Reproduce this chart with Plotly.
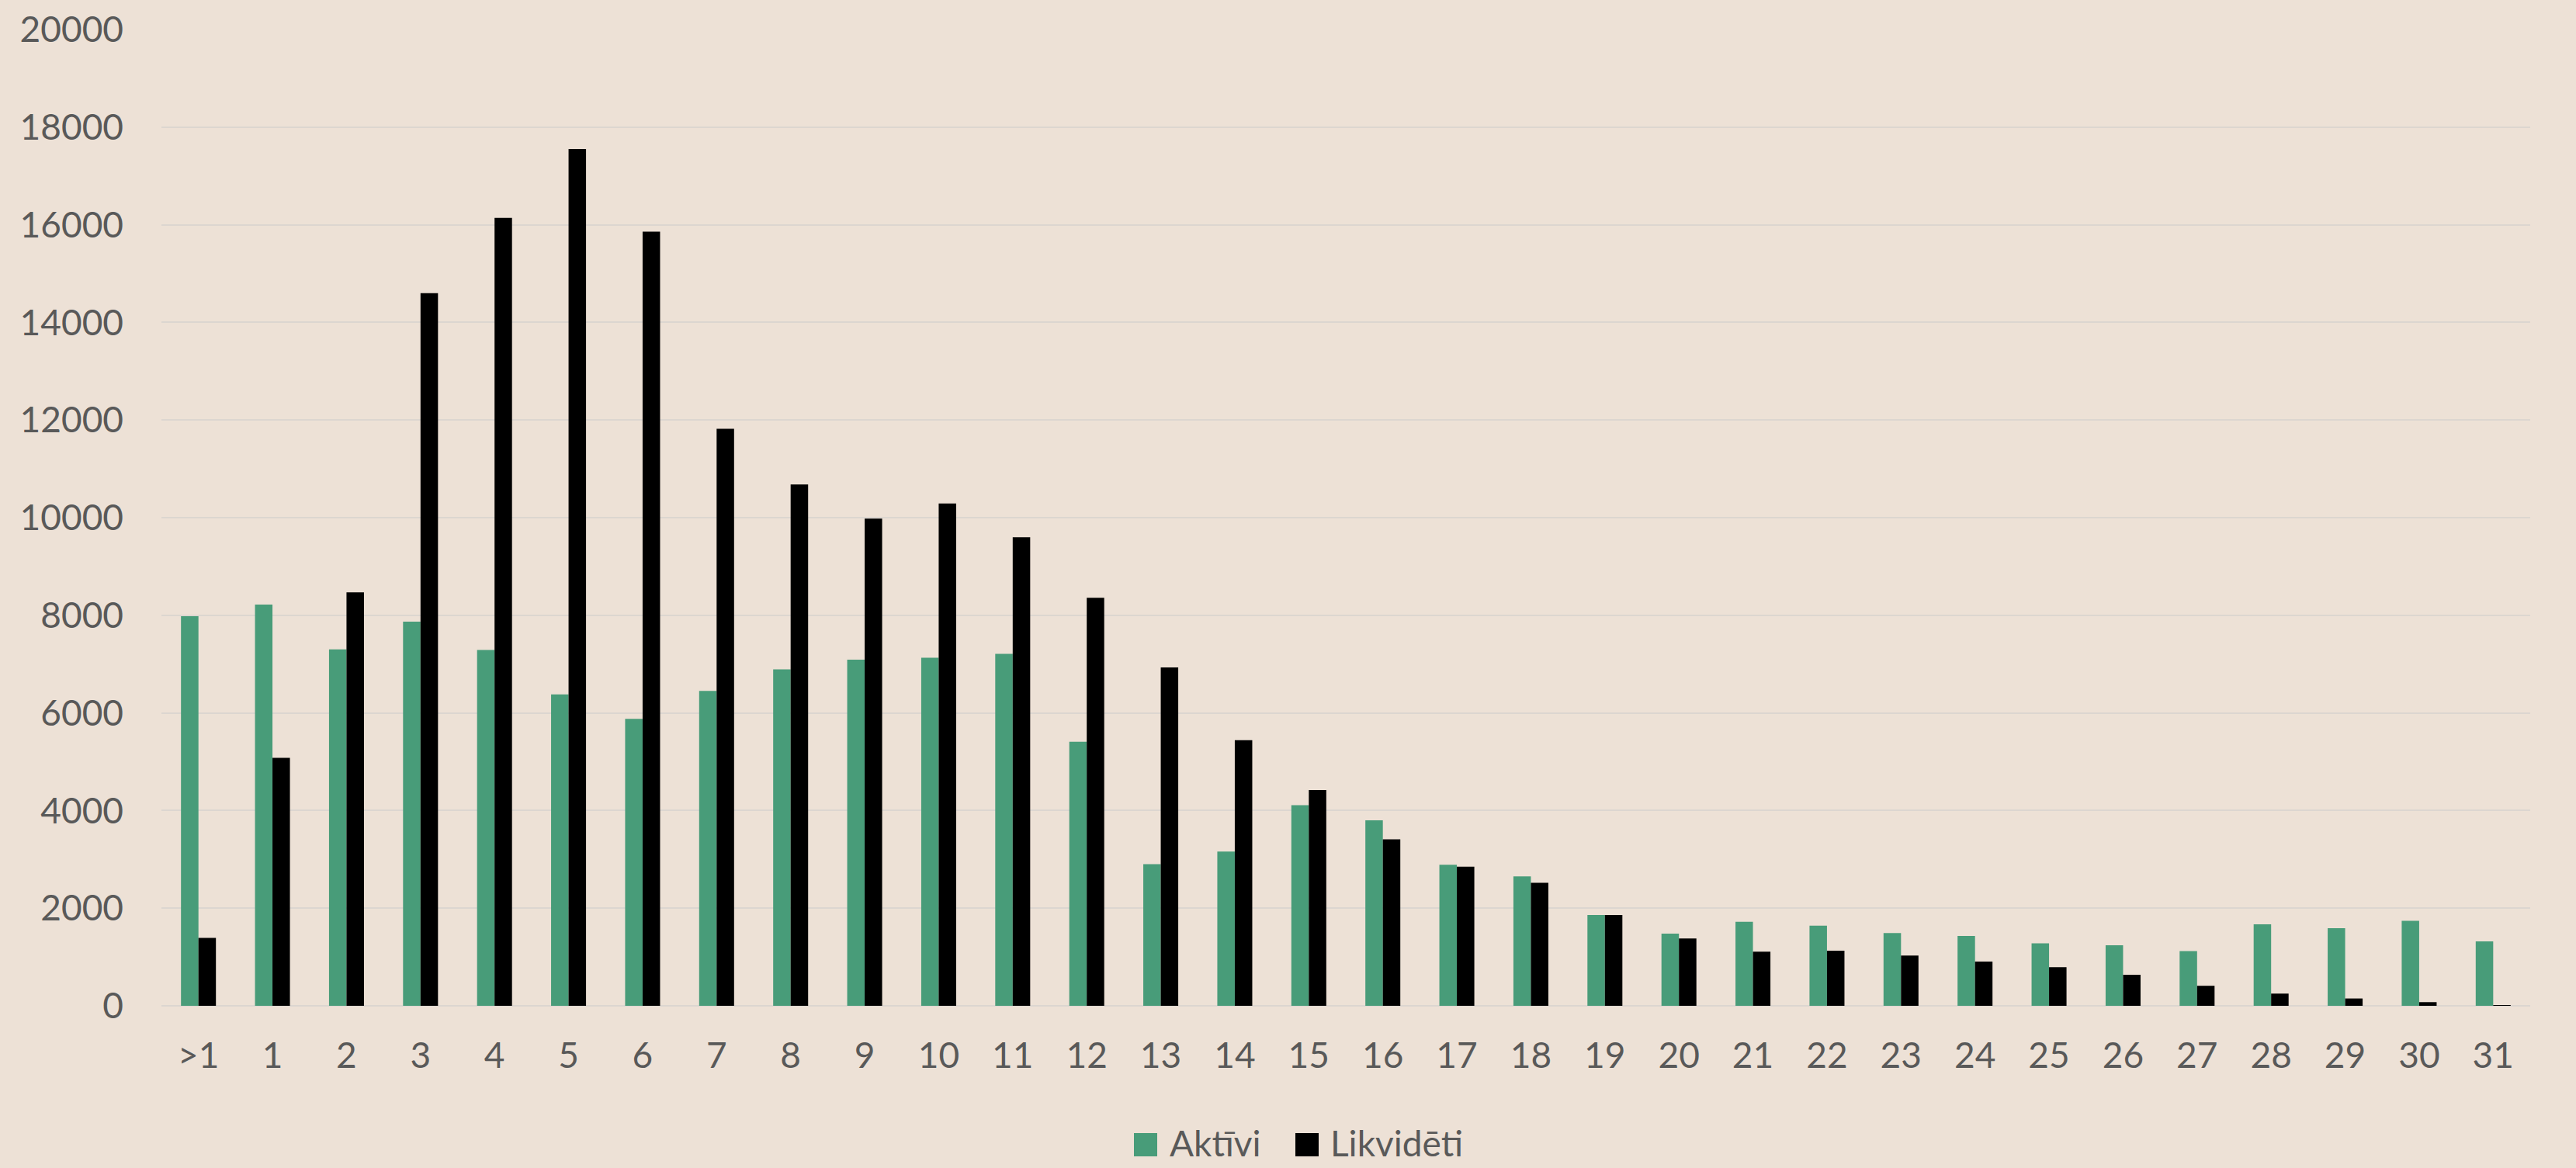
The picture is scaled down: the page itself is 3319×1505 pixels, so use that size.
import plotly.graph_objects as go

categories = [">1"] + [str(i) for i in range(1, 32)]
aktivi = [7980, 8220, 7300, 7870, 7290, 6380, 5880, 6450, 6890, 7090, 7130, 7210,
          5410, 2900, 3160, 4110, 3800, 2890, 2650, 1860, 1480, 1720, 1640, 1490,
          1430, 1280, 1240, 1120, 1670, 1590, 1740, 1320]
likvideti = [1390, 5080, 8470, 14600, 16140, 17550, 15860, 11820, 10680, 9980, 10290, 9600,
             8360, 6930, 5440, 4420, 3410, 2850, 2520, 1860, 1380, 1110, 1130, 1030,
             905, 790, 635, 410, 250, 150, 75, 10]
y_ticks = [0, 2000, 4000, 6000, 8000, 10000, 12000, 14000, 16000, 18000, 20000]
y_tick_labels = [str(v) for v in y_ticks]
series_names = ["Aktīvi", "Likvidēti"]
series_colors = ["#489C79", "#000000"]

BG = "#EDE1D6"
TXT = "#595959"
FONT = "Lato, 'Open Sans', sans-serif"

fig = go.Figure()
for name, vals, col in zip(series_names, [aktivi, likvideti], series_colors):
    fig.add_trace(go.Bar(x=categories, y=vals, name=name, showlegend=False,
                         marker=dict(color=col, line=dict(width=0))))

# Legend drawn below the plot (large square swatches as in the reference)
W, L, R, T, B, H = 3319, 208, 59, 38, 209, 1505
pw, ph = W - L - R, H - T - B
def px_x(p):
    return (p - L) / pw
def px_y(p):
    return (H - B - p) / ph

legend_items = [(1461, 1505), (1669, 1712)]  # swatch left, text left (pixels)
for (sx, tx), name, col in zip(legend_items, series_names, series_colors):
    fig.add_shape(type="rect", xref="paper", yref="paper",
                  x0=px_x(sx), x1=px_x(sx + 30), y0=px_y(1460), y1=px_y(1490),
                  fillcolor=col, line=dict(width=0), layer="above")
    fig.add_annotation(xref="paper", yref="paper", x=px_x(tx), y=px_y(1472),
                       xanchor="left", yanchor="middle", showarrow=False, text=name,
                       font=dict(size=46, color=TXT, family=FONT))

fig.update_layout(
    width=W, height=H,
    paper_bgcolor=BG, plot_bgcolor=BG,
    margin=dict(l=L, r=R, t=T, b=B, autoexpand=False),
    barmode="group", bargap=0.528, bargroupgap=0,
    font=dict(family=FONT, size=46, color=TXT),
    showlegend=False,
)
fig.update_yaxes(range=[0, 20000], tickvals=y_ticks, ticktext=y_tick_labels,
                 showgrid=True, gridcolor="#DCD6D0", gridwidth=2,
                 zeroline=True, zerolinecolor="#DCD6D0", zerolinewidth=2, showline=False,
                 ticks="", ticklabelstandoff=48, tickfont=dict(size=46, color=TXT, family=FONT))
fig.update_xaxes(showgrid=False, showline=False, ticks="", ticklabelstandoff=33,
                 tickfont=dict(size=46, color=TXT, family=FONT))

fig.write_html("out.html", config={"displayModeBar": False},
               post_script="document.body.style.margin='0';document.body.style.background='#EDE1D6';"
                           "document.body.style.overflow='hidden';")
